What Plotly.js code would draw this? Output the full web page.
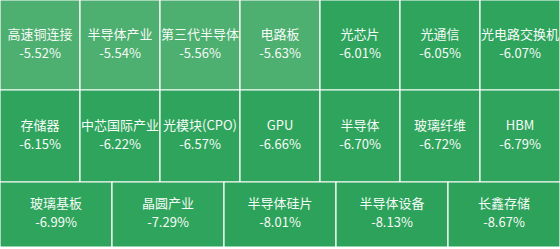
<!DOCTYPE html>
<html><head><meta charset="utf-8">
<script src="https://cdn.plot.ly/plotly-3.0.1.min.js"></script>
<style>html,body{margin:0;padding:0;background:#fff}#chart{width:560px;height:249px}</style>
</head><body><div id="chart"></div>
<script>
// Data
const row1Names = ["高速铜连接", "半导体产业", "第三代半导体", "电路板", "光芯片", "光通信", "光电路交换机"];
const row1Values = [-5.52, -5.54, -5.56, -5.63, -6.01, -6.05, -6.07];
const row2Names = ["存储器", "中芯国际产业", "光模块(CPO)", "GPU", "半导体", "玻璃纤维", "HBM"];
const row2Values = [-6.15, -6.22, -6.57, -6.66, -6.70, -6.72, -6.79];
const row3Names = ["玻璃基板", "晶圆产业", "半导体硅片", "半导体设备", "长鑫存储"];
const row3Values = [-6.99, -7.29, -8.01, -8.13, -8.67];

// Layout geometry (pixels)
const W = 560, H = 249;
const rowTops = [0, 90, 182];
const rowHeights = [90, 92, 65];
const lineGap = 9.5;
const rows = [[row1Names, row1Values], [row2Names, row2Values], [row3Names, row3Values]];

function colorFor(v) {
  if (v > -5.8) return "#4daf70";
  if (v > -7.5) return "#2fa45d";
  return "#2ca25a";
}

const bx = [], by = [], bbase = [], bw = [], bc = [];
const nx = [], ny = [], nt = [], vx = [], vy = [], vt = [];
rows.forEach(([names, vals], r) => {
  const n = names.length, cw = W / n;
  const yc = rowTops[r] + rowHeights[r] / 2;
  names.forEach((nm, i) => {
    bx.push(cw); by.push(yc); bbase.push(i * cw); bw.push(rowHeights[r]); bc.push(colorFor(vals[i]));
    nx.push(i * cw + cw / 2); ny.push(yc - lineGap); nt.push(nm);
    vx.push(i * cw + cw / 2); vy.push(yc + lineGap); vt.push(vals[i].toFixed(2) + "%");
  });
});

const font = {family: "Noto Sans CJK SC, Noto Sans, sans-serif", size: 13, color: "#f5fbf7"};
const traces = [
  {type: "bar", orientation: "h", x: bx, y: by, base: bbase, width: bw,
   marker: {color: bc, line: {color: "#ffffff", width: 1.2}}, hoverinfo: "skip"},
  {type: "scatter", mode: "text", x: nx, y: ny, text: nt, textposition: "middle center",
   textfont: font, hoverinfo: "skip"},
  {type: "scatter", mode: "text", x: vx, y: vy, text: vt, textposition: "middle center",
   textfont: font, hoverinfo: "skip"}
];

const layout = {
  width: W, height: H, margin: {l: 0, r: 0, t: 0, b: 0},
  paper_bgcolor: "#ffffff", plot_bgcolor: "#ffffff",
  barmode: "overlay", showlegend: false, hovermode: false,
  xaxis: {range: [0, W], visible: false, fixedrange: true},
  yaxis: {range: [H, 0], visible: false, fixedrange: true}
};

Plotly.newPlot("chart", traces, layout, {displayModeBar: false, staticPlot: true});
</script>
</body></html>
